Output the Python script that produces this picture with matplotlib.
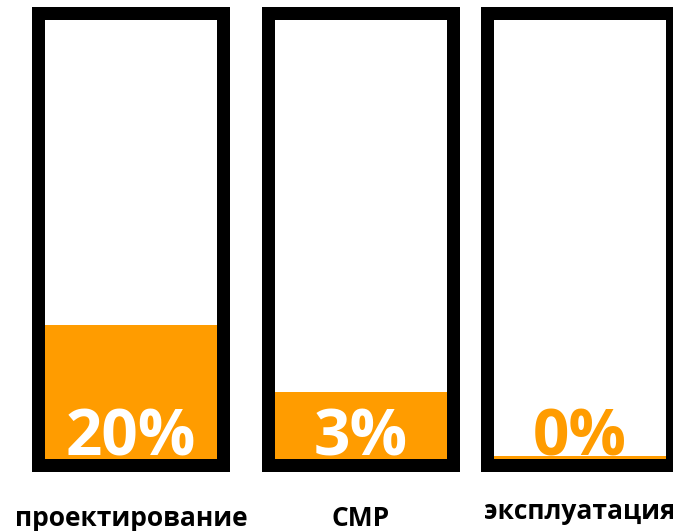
import matplotlib.pyplot as plt

# data
categories = ['проектирование', 'СМР', 'эксплуатация']
labels = ['20%', '3%', '0%']
fill_level = [30.5, 15.3, 0.7]   # how full each box is drawn, % of box height

orange = '#FF9C00'
W, H = 673, 531
inner_top, inner_bottom = 20, 459   # pixel rows of the box interior
border = 13                          # px
box_w = 172                          # interior width, px
centers = [131, 360.5, 580]

fig = plt.figure(figsize=(W / 100, H / 100), dpi=100)
ax = fig.add_axes([0, (H - inner_bottom) / H, 1, (inner_bottom - inner_top) / H])
ax.set_xlim(0, W)
ax.set_ylim(0, 100)
ax.axis('off')

def px(y):
    # pixel row -> percent of box height
    return (inner_bottom - y) / (inner_bottom - inner_top) * 100

pad = border / (inner_bottom - inner_top) * 100

# black frame, white interior, orange level
ax.bar(centers, [100 + 2 * pad] * 3, bottom=-pad, width=box_w + 2 * border,
       color='black', linewidth=0, clip_on=False)
ax.bar(centers, [100] * 3, width=box_w, color='white', linewidth=0)
ax.bar(centers, fill_level, width=box_w, color=orange, linewidth=0)

for i, (c, lab) in enumerate(zip(centers, labels)):
    col = 'white' if fill_level[i] > 5 else orange
    ax.text(c, px(455), lab, ha='center', va='baseline', color=col,
            fontsize=46, fontweight='bold', family='Open Sans')

for i, (c, cat) in enumerate(zip(centers, categories)):
    base = 526 if i < 2 else 519
    ax.text(c, px(base), cat, ha='center', va='baseline', color='black',
            fontsize=19, fontweight='bold', family='Open Sans', clip_on=False)

fig.savefig('out.png', dpi=100)
